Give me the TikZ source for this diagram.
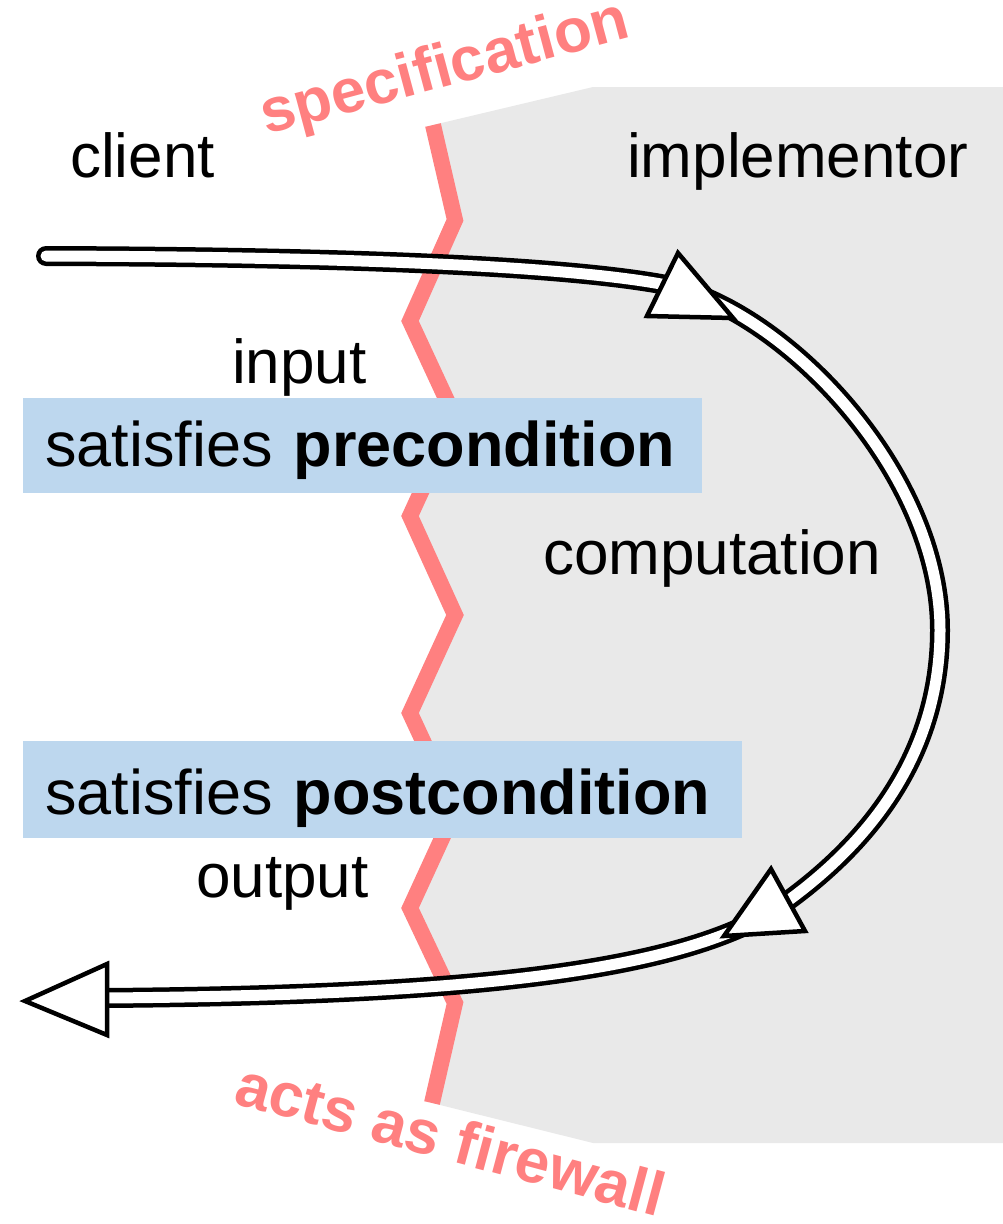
\documentclass[tikz,border=0pt]{standalone}
\usepackage{fontspec}
\setmainfont{Liberation Sans}
\definecolor{fw}{RGB}{255,128,128}
\definecolor{impl}{RGB}{233,233,233}
\definecolor{cond}{RGB}{189,215,238}
\begin{document}
\begin{tikzpicture}[x=1pt,y=-1pt,
  lbl/.style={anchor=base west, inner sep=0pt, font=\fontsize{62}{70}\selectfont},
  fwlbl/.style={anchor=base west, inner sep=0pt, text=fw, font=\fontsize{62}{70}\selectfont\bfseries},
  condbox/.style={anchor=north west, fill=cond, inner xsep=22pt, inner ysep=0pt, align=left, font=\fontsize{63}{70}\selectfont},
  flow/.style={draw=black, line width=4.5pt, double=white, double distance=11pt, line cap=round},
  head/.style={draw=black, fill=white, line width=4.5pt, line join=miter},
  wall/.style={draw=fw, line width=16pt, line join=miter}
]
\useasboundingbox (0,0) rectangle (1003,1224);
% implementor region
\fill[impl] (433,125) -- (593,87) -- (1003,87) -- (1003,1143) -- (593,1143) -- (432,1103)
  -- (455,1003) -- (410,908) -- (455,810) -- (410,713) -- (455,615) -- (410,516)
  -- (455,418) -- (410,321) -- (455,220) -- cycle;
% firewall zigzag
\draw[wall] (433,125) -- (455,220) -- (410,321) -- (455,418) -- (410,516) -- (455,615)
  -- (410,713) -- (455,810) -- (410,908) -- (455,1003) -- (432,1103);
% condition boxes
\node[condbox, text width=635pt, minimum height=95pt, text height=50pt, text depth=9pt] (pre) at (23,398) {satisfies \textbf{precondition}};
\node[condbox, text width=675pt, minimum height=97pt, text height=54pt, text depth=5pt] (post) at (23,741) {satisfies \textbf{postcondition}};
% flow
\coordinate (src) at (46,256);
\coordinate (b1) at (661,284);
\coordinate (r) at (940,630);
\coordinate (b2) at (789,900);
\coordinate (dst) at (107,998);
\draw[flow] (src) .. controls (350,257) and (560,266) .. (b1)
  .. controls (780,305) and (940,470) .. (r)
  .. controls (940,770) and (850,855) .. (b2)
  .. controls (690,975) and (450,995) .. (dst);
\draw[head] (678,253) -- (733,318) -- (647,316) -- cycle;
\draw[head] (771,869) -- (805,931) -- (724,936) -- cycle;
\draw[head] (25,1001) -- (107,964) -- (107,1035) -- cycle;
% labels
\node[lbl] (client) at (70,177) {client};
\node[lbl] (impllbl) at (627,177) {implementor};
\node[lbl] (input) at (232,383) {input};
\node[lbl] (comp) at (543,574) {computation};
\node[lbl] (output) at (196,897) {output};
\node[fwlbl, rotate=15] (spec) at (266,135) {specification};
\node[fwlbl, rotate=-15] (fwall) at (232,1103) {acts as firewall};
\end{tikzpicture}
\end{document}
